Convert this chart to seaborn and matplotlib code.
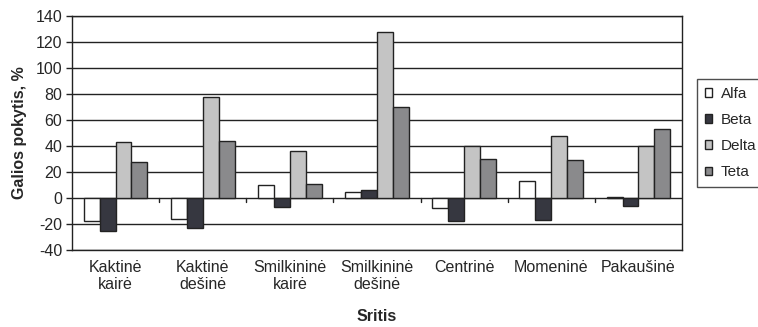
import matplotlib.pyplot as plt
import numpy as np
import pandas as pd
import seaborn as sns

# Data
regions = ['Kaktinė\nkairė', 'Kaktinė\ndešinė', 'Smilkininė\nkairė', 'Smilkininė\ndešinė',
           'Centrinė', 'Momeninė', 'Pakaušinė']
bands = ['Alfa', 'Beta', 'Delta', 'Teta']
alfa = [-18, -16, 10, 5, -8, 13, 1]
beta = [-25, -23, -7, 6, -18, -17, -6]
delta = [43, 78, 36.5, 128, 40, 48, 40]
teta = [27.5, 44, 11, 70, 30, 29.5, 53]

df = pd.DataFrame({
    'Sritis': regions * 4,
    'Juosta': np.repeat(bands, len(regions)),
    'Pokytis': alfa + beta + delta + teta,
})

colors = ['#ffffff', '#343642', '#c4c4c4', '#8a8a8c']

sns.set_style('white')
plt.rcParams['font.family'] = ['Liberation Sans', 'DejaVu Sans']
plt.rcParams['axes.unicode_minus'] = False

fig = plt.figure(figsize=(7.58, 3.27), dpi=100)
ax = fig.add_axes([72 / 758, 1 - 250 / 327, 610 / 758, 234 / 327])

sns.barplot(data=df, x='Sritis', y='Pokytis', hue='Juosta', palette=colors,
            width=0.73, gap=0, edgecolor='#222222', linewidth=1.0,
            legend=True, ax=ax, zorder=3)

ax.set_ylim(-40, 140)
ax.set_yticks(range(-40, 141, 20))
ax.set_xlim(-0.5, len(regions) - 0.5)
ax.yaxis.grid(True, color='#222222', linewidth=1.0, zorder=0)
ax.set_axisbelow(True)
for s in ax.spines.values():
    s.set_color('#222222')
    s.set_linewidth(1.0)

ax.tick_params(axis='y', direction='out', length=4, width=1, color='#222222',
               labelsize=11.5, pad=3, left=True)
ax.tick_params(axis='x', length=0, labelsize=11.5, pad=7)

# small category separator ticks on the zero line
for b in np.arange(0.5, len(regions) - 0.5, 1.0):
    ax.plot([b, b], [0, -3], color='#222222', linewidth=1.0, zorder=2)

ax.set_xlabel('Sritis', fontsize=11.5, fontweight='bold', labelpad=12)
ax.set_ylabel('Galios pokytis, %', fontsize=11.5, fontweight='bold', labelpad=6)

handles, labels = ax.get_legend_handles_labels()
ax.legend(handles, labels, loc='upper left',
          bbox_to_anchor=(697 / 758, 1 - 79 / 327), bbox_transform=fig.transFigure,
          borderaxespad=0, frameon=True, fancybox=False, edgecolor='#222222',
          fontsize=11, handlelength=0.5, handleheight=0.5, handletextpad=0.55,
          labelspacing=0.8, borderpad=0.5, title=None)
ax.get_legend().get_frame().set_linewidth(1.0)

plt.savefig('out.png', dpi=100)
